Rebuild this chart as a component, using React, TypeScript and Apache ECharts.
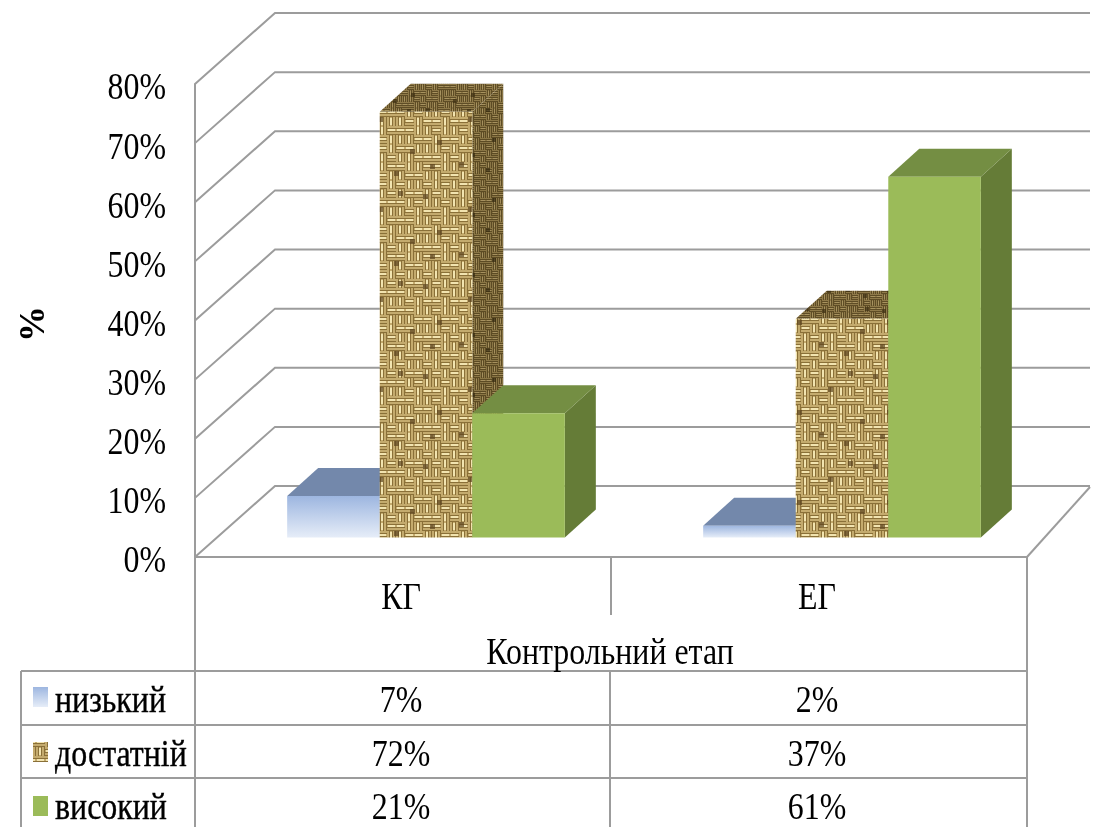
import React, { useEffect, useRef } from "react";
import * as echarts from "echarts";

const categories = ["КГ", "ЕГ"];
const levels = ["низький", "достатній", "високий"];
const lowValues = [7, 2];
const midValues = [72, 37];
const highValues = [21, 61];
const tickValues = [0, 10, 20, 30, 40, 50, 60, 70, 80];
const tickLabels = ["0%", "10%", "20%", "30%", "40%", "50%", "60%", "70%", "80%"];
const groupTitle = "Контрольний етап";
const yTitle = "%";

const FONT = '"Liberation Serif", "Times New Roman", serif';
const LINE = "#9c9c9c";
const SQUEEZE = 0.84;
const BAR = 0.2225;
const DEPTH_X = 31;
const DEPTH_Y = -28;
const FLOOR_SHIFT_X = 23;
const FLOOR_SHIFT_Y = -19.5;

const WEAVE_ROWS = [
  "0110100101",
  "1001011010",
  "0011101001",
  "1100010110",
  "0101110010",
  "1010001101",
  "0110110001",
  "1001001110",
  "0101100110",
  "1010011001",
];
const WEAVE_SPOTS = [[0.2, 0.3], [0.7, 0.15], [0.55, 0.65], [0.1, 0.8], [0.85, 0.55], [0.38, 0.9], [0.42, 0.12], [0.78, 0.82]];

function weave(thread: number, blur: number, light: string, mid: string, dark: string, spots: string) {
  const block = thread * 3;
  const n = block * 10;
  const raw = document.createElement("canvas");
  raw.width = n;
  raw.height = n;
  const g = raw.getContext("2d")!;
  g.fillStyle = mid;
  g.fillRect(0, 0, n, n);
  WEAVE_ROWS.forEach((row, j) => {
    row.split("").forEach((cell, i) => {
      const horizontal = cell === "1";
      const px = i * block;
      const py = j * block;
      for (let k = 0; k < 3; k++) {
        g.fillStyle = dark;
        if (horizontal) g.fillRect(px, py + k * thread + thread - 1, block, 1);
        else g.fillRect(px + k * thread + thread - 1, py, 1, block);
      }
      g.fillStyle = light;
      if (horizontal) g.fillRect(px + 1, py + thread, block - 2, thread - 1);
      else g.fillRect(px + thread, py + 1, thread - 1, block - 2);
    });
  });
  g.fillStyle = spots;
  g.globalAlpha = 0.7;
  WEAVE_SPOTS.forEach(([a, b]) => {
    g.fillRect(Math.round(a * n), Math.round(b * n), thread + 2, thread + 2);
  });
  const c = document.createElement("canvas");
  c.width = n;
  c.height = n;
  const h = c.getContext("2d")! as any;
  h.filter = `blur(${blur}px)`;
  [-n, 0, n].forEach((dx) => [-n, 0, n].forEach((dy) => h.drawImage(raw, dx, dy)));
  return { image: c, repeat: "repeat", imageWidth: n, imageHeight: n } as any;
}

function label(text: string, x: number, y: number, size: number, align: string, heavy = false) {
  return {
    type: "text",
    x,
    y,
    scaleX: SQUEEZE,
    scaleY: 1,
    silent: true,
    style: {
      text,
      x: 0,
      y: 0,
      fill: "#000000",
      fontFamily: FONT,
      fontSize: size,
      align,
      verticalAlign: "middle",
      ...(heavy ? { stroke: "#000000", lineWidth: 0.4 } : {}),
    },
  };
}

export default function App() {
  const ref = useRef<HTMLDivElement>(null);

  useEffect(() => {
    document.body.style.margin = "0";
    const chart = echarts.init(ref.current!, undefined, { renderer: "svg" });

    const frontBurlap = weave(3, 0.6, "#f2e4b0", "#c4ab6e", "#8a7038", "#5c4520");
    const topBurlap = weave(2, 0.6, "#a8935f", "#8f7a49", "#5f4d26", "#3d2f12");
    const sideBurlap = weave(2, 0.6, "#a6915f", "#8a7645", "#5c4b24", "#35290f");
    const lowFront = {
      type: "linear", x: 0, y: 0, x2: 0, y2: 1,
      colorStops: [
        { offset: 0, color: "#9db6e0" },
        { offset: 1, color: "#e6edf8" },
      ],
    };
    const skins = [
      { front: lowFront, top: "#7388ab", side: "#7388ab" },
      { front: frontBurlap, top: topBurlap, side: sideBurlap },
      { front: "#9bbb59", top: "#748e43", side: "#657c37" },
    ];

    const barRender = (index: number) => (params: any, api: any) => {
      const cat = api.value(0);
      const val = api.value(1);
      const band = api.size([1, 0])[0];
      const w = band * BAR;
      const base = api.coord([cat, 0]);
      const topPt = api.coord([cat, val]);
      const x = base[0] + FLOOR_SHIFT_X + (index - 1.5) * w;
      const y0 = base[1] + FLOOR_SHIFT_Y;
      const y1 = topPt[1] + FLOOR_SHIFT_Y;
      const skin = skins[index];
      return {
        type: "group",
        children: [
          {
            type: "polygon",
            shape: { points: [[x + w, y0], [x + w + DEPTH_X, y0 + DEPTH_Y], [x + w + DEPTH_X, y1 + DEPTH_Y], [x + w, y1]] },
            style: { fill: skin.side },
          },
          {
            type: "polygon",
            shape: { points: [[x, y1], [x + DEPTH_X, y1 + DEPTH_Y], [x + w + DEPTH_X, y1 + DEPTH_Y], [x + w, y1]] },
            style: { fill: skin.top },
          },
          { type: "rect", shape: { x, y: y1, width: w, height: y0 - y1 }, style: { fill: skin.front } },
        ],
      };
    };

    const wallRender = (params: any, api: any) => {
      const v = api.value(1);
      const p = api.coord([0, v]);
      const left = params.coordSys.x;
      const right = params.coordSys.x + params.coordSys.width;
      const y = p[1];
      const children: any[] = [
        {
          type: "polyline",
          shape: { points: [[left, y], [left + 80, y - 71], [right + 63, y - 71]] },
          style: { stroke: LINE, lineWidth: 2, fill: "none" },
        },
        label(tickLabels[params.dataIndex], 166, y + 3, 38, "right"),
      ];
      if (v === 0) {
        children.push({
          type: "line",
          shape: { x1: right, y1: y, x2: right + 63, y2: y - 70 },
          style: { stroke: LINE, lineWidth: 2 },
        });
      }
      return { type: "group", children };
    };

    const catLabelRender = (params: any, api: any) => {
      const p = api.coord([api.value(0), 0]);
      const cx = p[0] - 2;
      return { type: "group", children: [
        label(categories[params.dataIndex], cx, 597, 38, "center"),
        label(`${lowValues[params.dataIndex]}%`, cx, 700, 38, "center"),
        label(`${midValues[params.dataIndex]}%`, cx, 754, 38, "center"),
        label(`${highValues[params.dataIndex]}%`, cx, 807, 38, "center"),
      ] };
    };

    const tableX = [21, 195, 610, 1027];
    const rowY = [671, 725, 778];
    const gline = (x1: number, y1: number, x2: number, y2: number) => ({
      type: "line",
      shape: { x1, y1, x2, y2 },
      style: { stroke: LINE, lineWidth: 2 },
      silent: true,
    });
    const swatchFill = [lowFront, frontBurlap, "#9bbb59"];
    const swatchY = [687, 742, 796];
    const textY = [700, 754, 807];

    chart.setOption({
      animation: false,
      backgroundColor: "#ffffff",
      grid: { left: 195, right: 85, top: 84, bottom: 270 },
      xAxis: {
        type: "category",
        data: categories,
        axisLine: { show: true, lineStyle: { color: LINE, width: 2 } },
        axisTick: { show: true, length: 58, lineStyle: { color: LINE, width: 2 } },
        axisLabel: { show: false },
        splitLine: { show: false },
      },
      yAxis: {
        type: "value",
        min: 0,
        max: 80,
        interval: 10,
        axisLine: { show: true, lineStyle: { color: LINE, width: 2 } },
        axisTick: { show: false },
        axisLabel: { show: false },
        splitLine: { show: false },
      },
      series: [
        { type: "custom", name: "walls", data: tickValues.map((v) => [0, v]), renderItem: wallRender, encode: { x: 0, y: 1 }, z: 1 },
        { type: "custom", name: levels[0], data: lowValues.map((v, i) => [i, v]), renderItem: barRender(0), encode: { x: 0, y: 1 }, z: 3 },
        { type: "custom", name: levels[1], data: midValues.map((v, i) => [i, v]), renderItem: barRender(1), encode: { x: 0, y: 1 }, z: 4 },
        { type: "custom", name: levels[2], data: highValues.map((v, i) => [i, v]), renderItem: barRender(2), encode: { x: 0, y: 1 }, z: 5 },
        { type: "custom", name: "table", data: categories.map((_, i) => [i, 0]), renderItem: catLabelRender, encode: { x: 0, y: 1 }, z: 6 },
      ],
      graphic: {
        elements: [
          gline(tableX[1], 557, tableX[1], 827),
          gline(tableX[3], 557, tableX[3], 827),
          gline(tableX[2], rowY[0], tableX[2], 827),
          gline(tableX[0], rowY[0], tableX[0], 827),
          ...rowY.map((y) => gline(tableX[0], y, tableX[3], y)),
          label(groupTitle, 610, 652, 38, "center"),
          {
            type: "text",
            x: 32,
            y: 324,
            rotation: Math.PI / 2,
            silent: true,
            style: { text: yTitle, x: 0, y: 0, fill: "#000", fontFamily: FONT, fontSize: 36, fontWeight: "bold", align: "center", verticalAlign: "middle" },
          },
          ...levels.flatMap((name, i) => [
            { type: "rect", silent: true, shape: { x: 33, y: swatchY[i], width: 15, height: 20 }, style: { fill: swatchFill[i] } },
            label(name, 55, textY[i], 38, "left", true),
          ]),
        ],
      },
    } as any);

    return () => chart.dispose();
  }, []);

  return <div ref={ref} style={{ width: 1112, height: 827, filter: "blur(0.7px)" }} />;
}
